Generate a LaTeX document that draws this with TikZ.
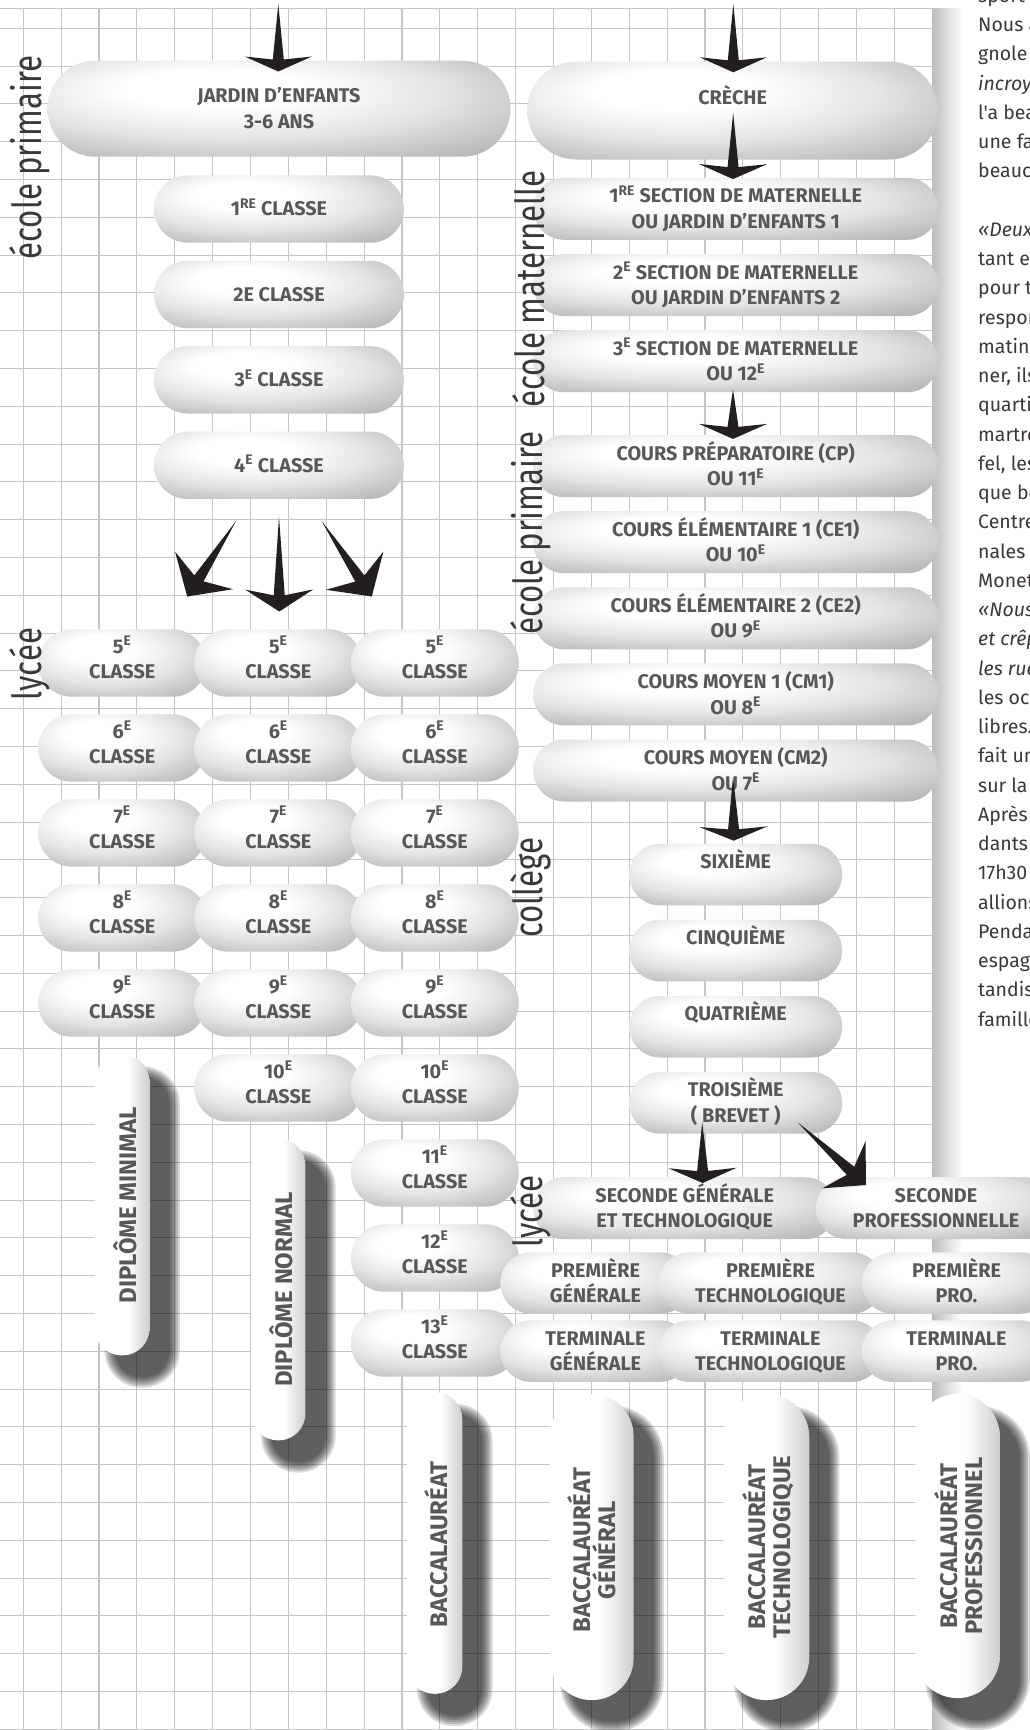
\documentclass[tikz,border=0pt]{standalone}
\usepackage{fontspec}
\setmainfont{Fira Sans}
\newfontfamily\pillfont{Fira Sans}
\newfontfamily\labelfont{Fira Sans}[FakeStretch=0.78]
\newfontfamily\bodyfont{Fira Sans}
\usetikzlibrary{positioning,calc,shapes.misc}

\definecolor{pilltext}{RGB}{88,88,90}
\definecolor{spikeblack}{RGB}{35,31,32}
\definecolor{gridgrey}{RGB}{198,198,198}
\definecolor{inkgrey}{RGB}{60,56,57}

\pgfdeclarelayer{gridlayer}
\pgfdeclarelayer{shadowlayer}
\pgfsetlayers{gridlayer,shadowlayer,main}

\pgfdeclareradialshading{pillshade}{\pgfpoint{-8.5bp}{12.7bp}}{%
  color(0bp)=(white); color(10bp)=(white); color(22.6bp)=(black!10);
  color(30.4bp)=(black!20); color(41bp)=(black!33); color(48bp)=(black!44); color(57bp)=(black!50)}
\pgfdeclarehorizontalshading{tubeshade}{100bp}{%
  color(0bp)=(black!22); color(25bp)=(white); color(55bp)=(white);
  color(80bp)=(black!24); color(100bp)=(black!50)}

% one line of pill text, centred on its capitals
\newcommand{\cl}[1]{\smash{#1}\vphantom{X}}
\newcommand{\two}[2]{\cl{#1}\\\cl{#2}}
\newcommand{\grade}[1]{\cl{#1\textsuperscript{E}}\\\cl{CLASSE}\rule[-8pt]{0pt}{8pt}}

% tapered black arrow: tail, tip, wing sweep, wing half span
\newcommand{\spike}[4]{%
  \pgfmathsetmacro{\spkj}{0.6*#3+3}%
  \fill[spikeblack] (#2)
    -- ($(#2)!#3pt!(#1)!#4pt!90:(#1)$)
    -- ($(#2)!\spkj pt!(#1)!5.5pt!90:(#1)$)
    -- (#1)
    -- ($(#2)!\spkj pt!(#1)!5.5pt!-90:(#1)$)
    -- ($(#2)!#3pt!(#1)!#4pt!-90:(#1)$)
    -- cycle;}

% soft drop shadow under a tube
\newcommand{\tubeshadow}[2]{%
  \foreach \g in {0,2,...,10}
    \fill[black, opacity=0.15, rounded corners=#2+\g]
      ([shift={(20-\g,22-\g)}]#1.north west) rectangle ([shift={(20+\g,22+\g)}]#1.south east);}

\tikzset{
  gridline/.style={draw=gridgrey, line width=1.1pt},
  pill/.style={rounded rectangle, shade, shading=pillshade, inner xsep=-20pt, inner ysep=0pt,
    align=center, text=pilltext, font=\pillfont\bfseries\fontsize{19.8}{25.5}\selectfont},
  classpill/.style={pill, minimum width=210, minimum height=67.3},
  gradepill/.style={pill, minimum width=128, minimum height=67.4},
  secpill/.style={pill, minimum width=365, minimum height=62},
  colpill/.style={pill, minimum width=173, minimum height=61.5},
  lycpill/.style={pill, minimum height=61.5},
  tube/.style={rectangle, shade, shading=tubeshade, inner sep=0pt},
  tubetext/.style={rotate=90, inner sep=0pt, align=center, text=pilltext,
    font=\pillfont\bfseries\fontsize{24}{25}\selectfont},
  sidelabel/.style={rotate=90, anchor=base, inner sep=0pt, text=inkgrey,
    font=\labelfont\fontsize{40}{40}\selectfont},
  bodytext/.style={anchor=base west, inner sep=0pt, text=inkgrey,
    font=\bodyfont\fontsize{19.5}{23}\selectfont}
}

\begin{document}
\begin{tikzpicture}[x=1pt, y=-1pt]
\useasboundingbox (0,0) rectangle (1030,1730);

% squared paper
\begin{pgfonlayer}{gridlayer}
  \fill[white] (0,0) rectangle (1030,1730);
  \foreach \k in {0,...,24}
    \draw[gridline] ({23.3+37.87*\k},8.5) -- ({23.3+37.87*\k},1730);
  \foreach \j in {0,...,45}
    \draw[gridline] (0,{28.3+37.8*\j}) -- (932.2,{28.3+37.8*\j});
  \draw[gridline] (0,8.5) -- (932.2,8.5);
  \shade[left color=black!26, right color=white] (932.2,8.5) rectangle (962,1730);
\end{pgfonlayer}

% ecole primaire, left
\node[pill, minimum width=423, minimum height=96] (jardin) at (279,108.7) {\two{JARDIN D’ENFANTS}{3-6 ANS}};
\node[classpill, below=18.3pt of jardin] (cl1) {\cl{1\textsuperscript{RE} CLASSE}};
\node[classpill, below=17.7pt of cl1] (cl2) {\cl{2E CLASSE}};
\node[classpill, below=17.7pt of cl2] (cl3) {\cl{3\textsuperscript{E} CLASSE}};
\node[classpill, below=17.7pt of cl3] (cl4) {\cl{4\textsuperscript{E} CLASSE}};

% lycee, three tracks
\foreach \n in {5,...,9}
  \node[gradepill] (a\n) at (122.2,{663+85*(\n-5)}) {\grade{\n}};
\foreach \n in {5,...,10}
  \node[gradepill] (b\n) at (278.3,{663+85*(\n-5)}) {\grade{\n}};
\foreach \n in {5,...,13}
  \node[gradepill] (c\n) at (434.8,{663+85*(\n-5)}) {\grade{\n}};

\node[tube, minimum width=54.7, minimum height=300.7, rounded corners=27, below=17.6pt of a9] (dipmin) {};
\node[tube, minimum width=54.3, minimum height=301.7, rounded corners=27, below=16.6pt of b10] (dipnorm) {};
\node[tube, minimum width=55, minimum height=301.7, rounded corners=27, below=15pt of c13] (bac) {};

% maternelle and ecole primaire, right
\node[pill, minimum width=371, minimum height=98] (creche) at (732.7,110.5) {\two{CRÈCHE}{}};
\node[secpill, below=17.9pt of creche, xshift=3pt] (sec1) {\two{1\textsuperscript{RE} SECTION DE MATERNELLE}{OU JARDIN D’ENFANTS 1}};
\node[secpill, below=13.8pt of sec1] (sec2) {\two{2\textsuperscript{E} SECTION DE MATERNELLE}{OU JARDIN D’ENFANTS 2}};
\node[secpill, below=13.8pt of sec2] (sec3) {\two{3\textsuperscript{E} SECTION DE MATERNELLE}{OU 12\textsuperscript{E}}};
\node[secpill, below=42.5pt of sec3] (cp) {\two{COURS PRÉPARATOIRE (CP)}{OU 11\textsuperscript{E}}};
\node[secpill, below=13.7pt of cp] (ce1) {\two{COURS ÉLÉMENTAIRE 1 (CE1)}{OU 10\textsuperscript{E}}};
\node[secpill, below=13.7pt of ce1] (ce2) {\two{COURS ÉLÉMENTAIRE 2 (CE2)}{OU 9\textsuperscript{E}}};
\node[secpill, below=13.7pt of ce2] (cm1) {\two{COURS MOYEN 1 (CM1)}{OU 8\textsuperscript{E}}};
\node[secpill, below=13.7pt of cm1] (cm2) {\two{COURS MOYEN (CM2)}{OU 7\textsuperscript{E}}};

% college
\node[colpill, below=42pt of cm2] (sixieme) {\two{SIXIÈME}{}};
\node[colpill, below=14pt of sixieme] (cinquieme) {\two{CINQUIÈME}{}};
\node[colpill, below=14.3pt of cinquieme] (quatrieme) {\two{QUATRIÈME}{}};
\node[colpill, below=14.2pt of quatrieme] (troisieme) {\two{TROISIÈME}{( BREVET )}};

% lycee, right
\node[pill, minimum width=262.6, minimum height=62] (secgen) at (684.7,1208.2) {\two{SECONDE GÉNÉRALE}{ET TECHNOLOGIQUE}};
\node[pill, minimum width=200, minimum height=62] (secpro) at (936,1208.2) {\two{SECONDE}{PROFESSIONNELLE}};
\node[lycpill, minimum width=150.4] (premgen) at (595.5,1283) {\two{PREMIÈRE}{GÉNÉRALE}};
\node[lycpill, minimum width=184] (premtech) at (770.5,1283) {\two{PREMIÈRE}{TECHNOLOGIQUE}};
\node[lycpill, minimum width=149] (prempro) at (956.5,1283) {\two{PREMIÈRE}{PRO.}};
\node[lycpill, minimum width=150.4, below=6.2pt of premgen] (termgen) {\two{TERMINALE}{GÉNÉRALE}};
\node[lycpill, minimum width=184, below=6.2pt of premtech] (termtech) {\two{TERMINALE}{TECHNOLOGIQUE}};
\node[lycpill, minimum width=149, below=6.2pt of prempro] (termpro) {\two{TERMINALE}{PRO.}};
\node[tube, minimum width=83.5, minimum height=306, rounded corners=41.5, below=11.8pt of termgen, xshift=-3.7pt] (bacgen) {};
\node[tube, minimum width=85.5, minimum height=306, rounded corners=42.5, below=11.8pt of termtech, xshift=-4pt] (bactech) {};
\node[tube, minimum width=84.5, minimum height=304, rounded corners=42, below=11.8pt of termpro, xshift=1pt] (bacpro) {};

% diplomas written up the tubes
\node[tubetext] (dipmin-t) at ($(dipmin.center)+(5.5,0)$) {\cl{DIPLÔME MINIMAL}};
\node[tubetext] (dipnorm-t) at ($(dipnorm.center)+(6,0)$) {\cl{DIPLÔME NORMAL}};
\node[tubetext] (bac-t) at ($(bac.center)+(4,1.5)$) {\cl{BACCALAURÉAT}};
\node[tubetext] (bacgen-t) at ($(bacgen.center)+(3,3)$) {\two{BACCALAURÉAT}{GÉNÉRAL}};
\node[tubetext] (bactech-t) at ($(bactech.center)+(3,0)$) {\two{BACCALAURÉAT}{TECHNOLOGIQUE}};
\node[tubetext] (bacpro-t) at ($(bacpro.center)+(4,0)$) {\two{BACCALAURÉAT}{PROFESSIONNEL}};

\begin{pgfonlayer}{shadowlayer}
  \tubeshadow{dipmin}{27}
  \tubeshadow{dipnorm}{27}
  \tubeshadow{bac}{27}
  \tubeshadow{bacgen}{41}
  \tubeshadow{bactech}{42}
  \tubeshadow{bacpro}{42}
\end{pgfonlayer}

% side labels
\node[sidelabel] (ecoleprim-l) at (41.7,157.5) {école primaire};
\node[sidelabel] (lycee-l) at (41,664) {lycée};
\node[sidelabel] (ecolemat-r) at (544,289) {école maternelle};
\node[sidelabel] (ecoleprim-r) at (542.3,533) {école primaire};
\node[sidelabel] (college-r) at (542.3,887.7) {collège};
\node[sidelabel] (lycee-r) at (542,1211.4) {lycée};

% arrows
\coordinate (in-l) at (278.3,4);
\coordinate (in-r) at (733.3,4);
\coordinate (tip1) at ($(jardin.north)+(-0.7,11)$);
\coordinate (tip2) at ($(creche.north)+(0.6,11)$);
\coordinate (tail3) at ($(creche.center)+(0.5,2.5)$);
\coordinate (tip3) at ($(sec1.north)+(-2.7,1.5)$);
\coordinate (tail4) at ($(sec3.south)+(-2.7,-3)$);
\coordinate (tip4) at ($(cp.north)+(-2.7,4)$);
\coordinate (tail5) at ($(cm2.center)+(-2.7,6.5)$);
\coordinate (tip5) at ($(sixieme.north)+(-2,-3)$);
\coordinate (tail6) at ($(troisieme.center)+(-33.5,19.5)$);
\coordinate (tip6) at ($(secgen.north)+(18,6)$);
\coordinate (tail7) at ($(troisieme.center)+(62,19.5)$);
\coordinate (tip7) at ($(secpro.north west)+(19,8)$);
\coordinate (tail8) at ($(cl4.south)+(0,17.7)$);
\coordinate (tip8) at ($(b5.north)+(1,-17.6)$);
\coordinate (tail9) at ($(cl4.south)+(-43,22)$);
\coordinate (tip9) at ($(a5.north)+(65,-32.6)$);
\coordinate (tail10) at ($(cl4.south)+(42.7,22)$);
\coordinate (tip10) at ($(c5.north)+(-63,-32.6)$);

\spike{in-l}{tip1}{15}{33.5}
\spike{in-r}{tip2}{15}{33.5}
\spike{tail3}{tip3}{15}{34}
\spike{tail4}{tip4}{15}{34}
\spike{tail5}{tip5}{14}{34}
\spike{tail6}{tip6}{15}{34}
\spike{tail7}{tip7}{30}{32}
\spike{tail8}{tip8}{22}{34}
\spike{tail9}{tip9}{31}{34.5}
\spike{tail10}{tip10}{31}{34.5}

% article column, cut at the page edge
\foreach \n/\t in {1/sport, 2/Nous a, 3/gnole, 4/{\itshape incroy}, 5/l'a bea, 6/une fa,
    7/beauco, 9/{\itshape «Deux}, 10/tant e, 11/pour t, 12/respon, 13/matin,
    14/{ner, ils}, 15/quartie, 16/martre, 17/{fel, les}, 18/que be, 19/Centre,
    20/nales c, 21/Monet, 22/{\itshape «Nous}, 23/{\itshape et crêp},
    24/{\itshape les rue}, 25/les occ, 26/libres., 27/fait un, 28/sur la,
    29/Après, 30/dants, 31/17h30, 32/allions, 33/Penda, 34/espagn, 35/tandis,
    36/famille}
  \node[bodytext] (body\n) at (978,{31.7+29.25*(\n-2)}) {\t};
\end{tikzpicture}
\end{document}
